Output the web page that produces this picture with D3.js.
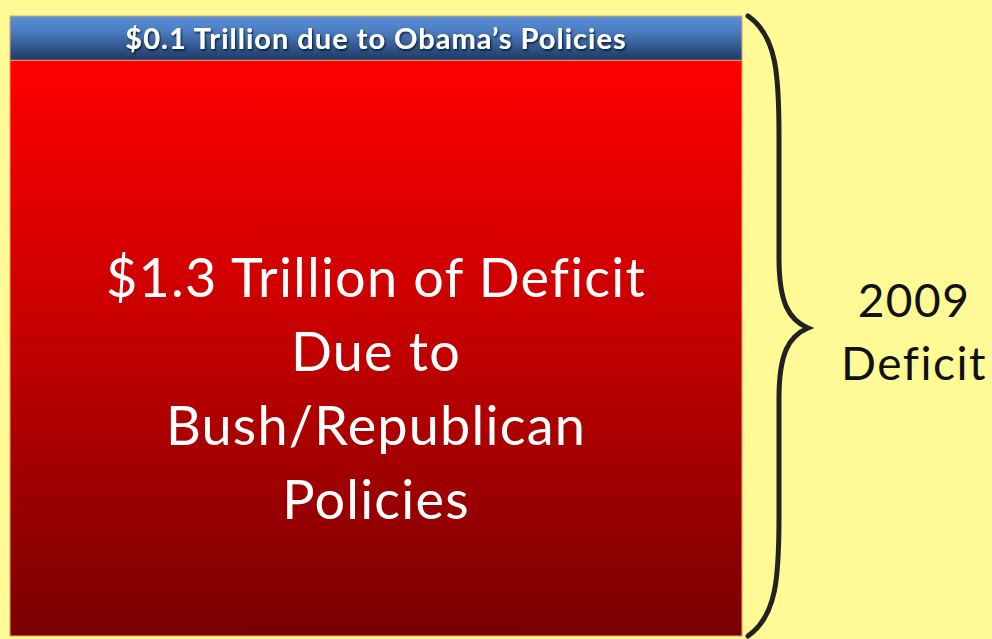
<!DOCTYPE html>
<html>
<head>
<meta charset="utf-8">
<script src="https://cdn.jsdelivr.net/npm/d3@7"></script>
<style>
  html, body { margin: 0; padding: 0; background: #fffa96; }
  svg { display: block; }
</style>
</head>
<body>
<svg id="chart" width="992" height="639"></svg>
<script>
// 2009 deficit split by policy origin (trillions of dollars)
const categories = ["Bush/Republican Policies", "Obama's Policies"];
const values = [1.3, 0.1];
const labels = [
  ["$1.3 Trillion of Deficit", "Due to", "Bush/Republican", "Policies"],
  ["$0.1 Trillion due to Obama\u2019s Policies"]
];
const braceLabel = ["2009", "Deficit"];

const W = 992, H = 639;
const svg = d3.select("#chart");

svg.append("rect").attr("width", W).attr("height", H).attr("fill", "#fffa96");

const total = d3.sum(values);
const y = d3.scaleLinear().domain([0, total]).range([636, 16]);
const x = d3.scaleBand().domain(["2009"]).range([10, 742]).padding(0);

// stack the segments bottom-up
let acc = 0;
const segs = categories.map((c, i) => {
  const s = { cat: c, v: values[i], y0: acc, y1: acc + values[i], lines: labels[i] };
  acc += values[i];
  return s;
});

const defs = svg.append("defs");
const gRed = defs.append("linearGradient").attr("id", "gRed").attr("x1", 0).attr("y1", 0).attr("x2", 0).attr("y2", 1);
gRed.append("stop").attr("offset", "0%").attr("stop-color", "#ff0000");
gRed.append("stop").attr("offset", "45%").attr("stop-color", "#c80000");
gRed.append("stop").attr("offset", "100%").attr("stop-color", "#780000");
const gBlue = defs.append("linearGradient").attr("id", "gBlue").attr("x1", 0).attr("y1", 0).attr("x2", 0).attr("y2", 1);
gBlue.append("stop").attr("offset", "0%").attr("stop-color", "#5a90d8");
gBlue.append("stop").attr("offset", "35%").attr("stop-color", "#4a7cc0");
gBlue.append("stop").attr("offset", "100%").attr("stop-color", "#1c3964");

const shadow = defs.append("filter").attr("id", "ts").attr("x", "-10%").attr("y", "-30%").attr("width", "120%").attr("height", "160%");
shadow.append("feDropShadow").attr("dx", 1).attr("dy", 1.5).attr("stdDeviation", 1.2).attr("flood-color", "#000").attr("flood-opacity", 0.8);
const soft = defs.append("filter").attr("id", "soft");
soft.append("feGaussianBlur").attr("stdDeviation", 0.6);

const fills = ["url(#gRed)", "url(#gBlue)"];

svg.selectAll("rect.seg").data(segs).join("rect")
  .attr("class", "seg")
  .attr("x", x("2009"))
  .attr("width", x.bandwidth())
  .attr("y", d => y(d.y1))
  .attr("height", d => y(d.y0) - y(d.y1))
  .attr("fill", (d, i) => fills[i])
  .attr("stroke", "#e8a060")
  .attr("stroke-width", 1);

// big label inside the red segment
const red = segs[0];
const cx = x("2009") + x.bandwidth() / 2;
svg.append("text")
  .attr("x", cx)
  .attr("text-anchor", "middle")
  .attr("font-family", "Lato, 'Open Sans', sans-serif")
  .attr("font-size", 54)
  .attr("letter-spacing", 1.2)
  .attr("fill", "#ffffff")
  .selectAll("tspan").data(red.lines).join("tspan")
  .attr("x", cx)
  .attr("y", (d, i) => 297 + i * 74)
  .text(d => d);

// small label inside the blue segment
const blue = segs[1];
svg.append("text")
  .attr("x", cx)
  .attr("y", (y(blue.y0) + y(blue.y1)) / 2 + 11)
  .attr("text-anchor", "middle")
  .attr("font-family", "Lato, 'Open Sans', sans-serif")
  .attr("font-weight", "bold")
  .attr("font-size", 29)
  .attr("letter-spacing", 1)
  .attr("fill", "#ffffff")
  .attr("filter", "url(#ts)")
  .text(blue.lines[0]);

// curly brace spanning the full bar
const braceTop = y(total), braceBot = y(0), braceMid = (braceTop + braceBot) / 2 + 2;
const bx = 748, vx = 779, tipx = 808;
const brace = d3.path();
brace.moveTo(bx, braceTop);
brace.bezierCurveTo(vx - 2, braceTop + 20, vx, braceTop + 60, vx, braceTop + 120);
brace.lineTo(vx, braceMid - 70);
brace.bezierCurveTo(vx, braceMid - 25, vx + 10, braceMid - 8, tipx, braceMid);
brace.bezierCurveTo(vx + 10, braceMid + 8, vx, braceMid + 25, vx, braceMid + 70);
brace.lineTo(vx, braceBot - 120);
brace.bezierCurveTo(vx, braceBot - 60, vx - 2, braceBot - 20, bx, braceBot);
svg.append("path")
  .attr("d", brace.toString())
  .attr("fill", "none")
  .attr("stroke", "#222222")
  .attr("stroke-width", 5)
  .attr("stroke-linecap", "round")
  .attr("filter", "url(#soft)");

svg.append("text")
  .attr("text-anchor", "middle")
  .attr("font-family", "Lato, 'Open Sans', sans-serif")
  .attr("font-size", 46)
  .attr("letter-spacing", 1.5)
  .attr("fill", "#111111")
  .selectAll("tspan").data(braceLabel).join("tspan")
  .attr("x", 914)
  .attr("y", (d, i) => 317 + i * 63)
  .text(d => d);
</script>
</body>
</html>
